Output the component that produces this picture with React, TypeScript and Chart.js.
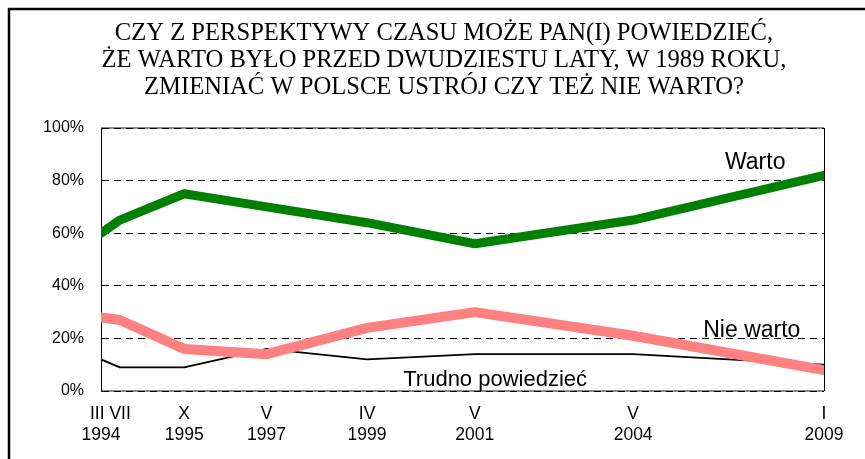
import React, { useEffect, useRef } from "react";
import { Chart, registerables } from "chart.js";

Chart.register(...registerables);

// ---- data ----
const titleLines = [
  "CZY Z PERSPEKTYWY CZASU MOŻE PAN(I) POWIEDZIEĆ,",
  "ŻE WARTO BYŁO PRZED DWUDZIESTU LATY, W 1989 ROKU,",
  "ZMIENIAĆ W POLSCE USTRÓJ CZY TEŻ NIE WARTO?",
];
// survey dates: III 1994, VII 1994, X 1995, V 1997, IV 1999, V 2001, V 2004, I 2009
const surveyAxisPos = [0, 2.6, 11.5, 22.9, 36.8, 51.7, 73.6, 100];
const monthLabels = ["III VII", "X", "V", "IV", "V", "V", "I"];
const yearLabels = ["1994", "1995", "1997", "1999", "2001", "2004", "2009"];
const warto = [60, 65, 75, 70, 64, 56, 65, 82];
const nieWarto = [28, 27, 16, 14, 24, 30, 21, 8];
const trudno = [12, 9, 9, 16, 12, 14, 14, 10];
const seriesNames = ["Warto", "Nie warto", "Trudno powiedzieć"];
const yTickValues = [0, 20, 40, 60, 80, 100];

const monthTickPos = [
  (surveyAxisPos[0] + surveyAxisPos[1]) / 2,
  ...surveyAxisPos.slice(2),
];
const yearTickPos = [surveyAxisPos[0], ...surveyAxisPos.slice(2)];

const SANS = "'Liberation Sans', Arial, sans-serif";
const SERIF = "'Liberation Serif', 'Times New Roman', serif";

const decorPlugin = {
  id: "decor",
  beforeDraw(chart: any) {
    const ctx = chart.ctx;
    const { left, right, top, bottom } = chart.chartArea;
    ctx.save();
    // outer frame (top and left edges)
    ctx.strokeStyle = "#000";
    ctx.lineWidth = 2.5;
    ctx.beginPath();
    ctx.moveTo(9, chart.height + 5);
    ctx.lineTo(9, 9);
    ctx.lineTo(chart.width + 5, 9);
    ctx.stroke();
    // plot area grey top/bottom
    ctx.strokeStyle = "#8a8a8a";
    ctx.lineWidth = 2;
    ctx.beginPath();
    ctx.moveTo(left, top);
    ctx.lineTo(right, top);
    ctx.moveTo(left, bottom);
    ctx.lineTo(right, bottom);
    ctx.stroke();
    // right border
    ctx.strokeStyle = "#000";
    ctx.lineWidth = 1;
    ctx.beginPath();
    ctx.moveTo(Math.round(right) + 0.5, top);
    ctx.lineTo(Math.round(right) + 0.5, bottom);
    ctx.stroke();
    // title
    ctx.fillStyle = "#000";
    ctx.font = `24.6px ${SERIF}`;
    ctx.textAlign = "center";
    ctx.textBaseline = "alphabetic";
    titleLines.forEach((line, i) => {
      ctx.fillText(line, 444, 39.5 + i * 27.3);
    });
    ctx.restore();
  },
  afterDatasetsDraw(chart: any) {
    const ctx = chart.ctx;
    const xs = chart.scales.x;
    const ys = chart.scales.y;
    const anchors = [
      { x: 86.3, y: 84.4, size: 23 },
      { x: 83.3, y: 20.5, size: 23 },
      { x: 41.8, y: 1.9, size: 22 },
    ];
    ctx.save();
    ctx.fillStyle = "#000";
    ctx.textAlign = "left";
    ctx.textBaseline = "alphabetic";
    anchors.forEach((a, i) => {
      ctx.font = `${a.size}px ${SANS}`;
      ctx.fillText(seriesNames[i], xs.getPixelForValue(a.x), ys.getPixelForValue(a.y));
    });
    ctx.restore();
  },
};

function toPoints(values: number[]) {
  return values.map((v, i) => ({ x: surveyAxisPos[i], y: v }));
}

export default function App() {
  const ref = useRef<HTMLCanvasElement | null>(null);

  useEffect(() => {
    if (!ref.current) return;
    Chart.defaults.font.family = SANS;
    const chart = new Chart(ref.current, {
      type: "line",
      data: {
        datasets: [
          {
            label: seriesNames[0],
            data: toPoints(warto),
            borderColor: "#008000",
            borderWidth: 9,
            borderCapStyle: "round",
            borderJoinStyle: "round",
            pointRadius: 0,
            tension: 0,
            xAxisID: "x",
          },
          {
            label: seriesNames[1],
            data: toPoints(nieWarto),
            borderColor: "#FF8080",
            borderWidth: 10,
            borderCapStyle: "round",
            borderJoinStyle: "round",
            pointRadius: 0,
            tension: 0,
            xAxisID: "x",
          },
          {
            label: seriesNames[2],
            data: toPoints(trudno),
            borderColor: "#000000",
            borderWidth: 1.8,
            borderCapStyle: "round",
            borderJoinStyle: "round",
            pointRadius: 0,
            tension: 0,
            xAxisID: "x",
          },
        ],
      },
      options: {
        responsive: false,
        animation: false,
        devicePixelRatio: 1,
        layout: { padding: { left: 0, right: 41, top: 128, bottom: 0 } },
        plugins: {
          legend: { display: false },
          title: { display: false },
          tooltip: { enabled: false },
        },
        scales: {
          x: {
            type: "linear",
            position: "bottom",
            weight: 0,
            min: 0,
            max: 100,
            grid: { display: false, drawTicks: false },
            border: { display: false },
            afterBuildTicks: (scale: any) => {
              scale.ticks = monthTickPos.map((v) => ({ value: v }));
            },
            afterFit: (scale: any) => {
              scale.height = 34;
            },
            ticks: {
              autoSkip: false,
              maxRotation: 0,
              minRotation: 0,
              padding: 12.5,
              color: "#000",
              font: { size: 17.5, family: SANS },
              callback: (_v: any, i: number) => monthLabels[i],
            },
          },
          xYear: {
            type: "linear",
            position: "bottom",
            weight: 1,
            min: 0,
            max: 100,
            grid: { display: false, drawTicks: false },
            border: { display: false },
            afterBuildTicks: (scale: any) => {
              scale.ticks = yearTickPos.map((v) => ({ value: v }));
            },
            afterFit: (scale: any) => {
              scale.height = 34;
            },
            ticks: {
              autoSkip: false,
              maxRotation: 0,
              minRotation: 0,
              padding: 0,
              color: "#000",
              font: { size: 17.5, family: SANS },
              callback: (_v: any, i: number) => yearLabels[i],
            },
          },
          y: {
            type: "linear",
            min: 0,
            max: 100,
            afterBuildTicks: (scale: any) => {
              scale.ticks = yTickValues.map((v) => ({ value: v }));
            },
            afterFit: (scale: any) => {
              scale.width = 101;
            },
            grid: {
              color: "#000",
              lineWidth: 1,
              drawTicks: false,
              tickLength: 0,
            },
            border: { display: true, color: "#000", width: 1, dash: [7, 5] },
            ticks: {
              padding: 17,
              color: "#000",
              font: { size: 16, family: SANS },
              callback: (v: any) => `${v}%`,
            },
          },
        },
      },
      plugins: [decorPlugin],
    } as any);
    return () => chart.destroy();
  }, []);

  return (
    <div
      style={{
        position: "fixed",
        left: 0,
        top: 0,
        width: 865,
        height: 459,
        background: "#fff",
      }}
    >
      <canvas ref={ref} width={865} height={459} style={{ display: "block" }} />
    </div>
  );
}
